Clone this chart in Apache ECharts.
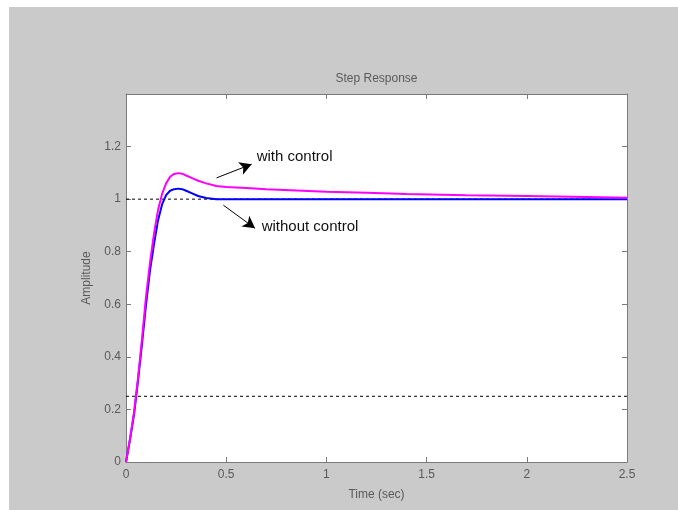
<!DOCTYPE html>
<html><head><meta charset="utf-8">
<script src="https://cdn.jsdelivr.net/npm/echarts@6/dist/echarts.min.js"></script>
<style>html,body{margin:0;padding:0;background:#fff}#c{width:678px;height:510px}</style>
</head><body><div id="c"></div>
<script>
// Time (sec) and amplitude values
const timeWith = [0,0.02,0.04,0.06,0.08,0.10,0.12,0.14,0.16,0.18,0.20,0.22,0.24,0.26,0.28,0.30,0.33,0.36,0.40,0.45,0.50,0.60,0.70,0.85,1.0,1.2,1.4,1.7,2.0,2.3,2.5];
const ampWith  = [0,0.09,0.19,0.32,0.47,0.63,0.76,0.87,0.96,1.02,1.06,1.085,1.096,1.099,1.097,1.09,1.08,1.07,1.06,1.05,1.046,1.042,1.038,1.033,1.028,1.024,1.02,1.015,1.012,1.008,1.005];
const timeWithout = [0,0.02,0.04,0.06,0.08,0.10,0.12,0.14,0.16,0.18,0.20,0.22,0.24,0.26,0.28,0.30,0.33,0.36,0.40,0.45,0.6,1.0,1.5,2.0,2.5];
const ampWithout  = [0,0.085,0.18,0.31,0.45,0.60,0.73,0.83,0.92,0.98,1.015,1.032,1.038,1.04,1.038,1.032,1.022,1.012,1.004,1.0,1.0,1.0,1.0,1.0,1.0];
const refLevels = [1, 0.25];
const xTicks = [0,0.5,1,1.5,2,2.5];
const yTicks = [0,0.2,0.4,0.6,0.8,1,1.2];
// annotations: [text, textAnchor(t,amp), arrowFrom(t,amp), arrowTo(t,amp)]
const notes = [
  ['with control',    [0.652,1.161], [0.452,1.081], [0.627,1.133]],
  ['without control', [0.677,0.895], [0.486,0.977], [0.644,0.889]]
];

const zip = (a,b)=>a.map((v,i)=>[v,b[i]]);
const axisCol = '#7a7a7a', labCol = '#5a5a5a';
const font = 'Liberation Sans, Arial, sans-serif';

const chart = echarts.init(document.getElementById('c'), null, {renderer:'canvas'});
const baseX = {type:'value', min:0, max:2.5, interval:0.5,
  axisLine:{show:true,onZero:false,lineStyle:{color:axisCol,width:1}},
  axisTick:{show:true,inside:true,length:5,lineStyle:{color:axisCol}},
  splitLine:{show:false}};
const baseY = {type:'value', min:0, max:1.4, interval:0.2,
  axisLine:{show:true,onZero:false,lineStyle:{color:axisCol,width:1}},
  axisTick:{show:true,inside:true,length:5,lineStyle:{color:axisCol}},
  splitLine:{show:false}};
const bg = {type:'rect', z:-10, shape:{x:9,y:7,width:669,height:503}, style:{fill:'#cacaca'}};

chart.setOption({
  animation:false,
  backgroundColor:'#fff',
  textStyle:{fontFamily:font},
  graphic:[bg],
  grid:{left:126,right:51,top:94,bottom:48,show:true,backgroundColor:'#fff',borderWidth:0},
  xAxis:[
    Object.assign({}, baseX, {position:'bottom', name:'Time (sec)', nameLocation:'middle', nameGap:27,
      nameTextStyle:{color:labCol,fontSize:12,fontFamily:font},
      axisLabel:{color:labCol,fontSize:12,margin:7,fontFamily:font,formatter:v=>xTicks.includes(v)?String(v):''}}),
    Object.assign({}, baseX, {position:'top', name:'Step Response', nameLocation:'middle', nameGap:9,
      nameTextStyle:{color:labCol,fontSize:12,fontFamily:font,verticalAlign:'bottom'},
      axisLabel:{show:false}})
  ],
  yAxis:[
    Object.assign({}, baseY, {position:'left', name:'Amplitude', nameLocation:'middle', nameGap:33,
      nameTextStyle:{color:labCol,fontSize:12,fontFamily:font},
      axisLabel:{color:labCol,fontSize:12,margin:5,fontFamily:font,showMaxLabel:false,
        formatter:v=>yTicks.some(t=>Math.abs(t-v)<1e-9)?String(Math.round(v*10)/10):''}}),
    Object.assign({}, baseY, {position:'right', axisLabel:{show:false}})
  ],
  series:[
    ...refLevels.map(l=>({type:'line', data:[[0,l],[2.5,l]], symbol:'none', silent:true,
      lineStyle:{color:'#000',width:1,type:[3,3]}, z:1})),
    {type:'line', name:'without control', data:zip(timeWithout,ampWithout), symbol:'none',
      lineStyle:{color:'#0000ff',width:2}, z:2},
    {type:'line', name:'with control', data:zip(timeWith,ampWith), symbol:'none',
      lineStyle:{color:'#ff00ff',width:2}, z:3,
      markLine:{silent:true, symbol:['none','arrow'], symbolSize:[10,12],
        lineStyle:{color:'#000',width:1,type:'solid'}, label:{show:false},
        data:notes.map(n=>[{coord:n[2]},{coord:n[3]}])}
    }
  ]
});

// annotation texts at data positions
const g = notes.map(n=>{
  const p = chart.convertToPixel({xAxisIndex:0,yAxisIndex:0}, n[1]);
  return {type:'text', x:p[0], y:p[1], z:20,
    style:{text:n[0], fill:'#111', font:'15px '+font, verticalAlign:'middle'}};
});
chart.setOption({graphic:[bg, ...g]});
</script></body></html>
